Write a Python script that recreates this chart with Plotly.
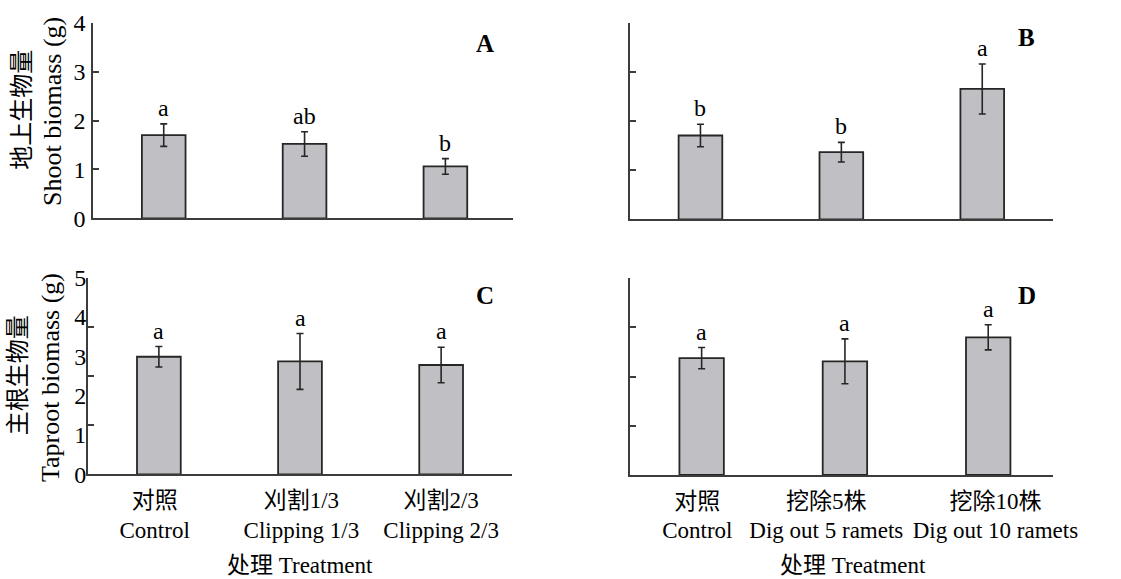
import plotly.graph_objects as go

# Treatment groups
cat_clip = ["对照<br>Control", "刈割1/3<br>Clipping 1/3", "刈割2/3<br>Clipping 2/3"]
cat_dig = ["对照<br>Control", "挖除5株<br>Dig out 5 ramets", "挖除10株<br>Dig out 10 ramets"]

# Shoot biomass (g): mean, SE, significance letters
shoot_clip_mean = [1.70, 1.52, 1.06]
shoot_clip_se = [0.23, 0.25, 0.16]
shoot_clip_sig = ["a", "ab", "b"]
shoot_dig_mean = [1.71, 1.37, 2.66]
shoot_dig_se = [0.23, 0.20, 0.51]
shoot_dig_sig = ["b", "b", "a"]

# Taproot biomass (g): mean, SE, significance letters
root_clip_mean = [2.99, 2.87, 2.78]
root_clip_se = [0.26, 0.71, 0.45]
root_clip_sig = ["a", "a", "a"]
root_dig_mean = [2.97, 2.89, 3.50]
root_dig_se = [0.27, 0.57, 0.32]
root_dig_sig = ["a", "a", "a"]

W, H = 1121, 579
FONT = "Liberation Serif, Times New Roman, Noto Sans CJK SC, serif"
BAR_FILL = "#c0bfc3"
INK = "#262626"
AX = "#3c3c3c"


def px_x(a, b):
    return [a / W, b / W]


def px_y(top, bottom):
    return [1 - bottom / H, 1 - top / H]


# label nudges (in category units) so long captions don't collide
clip_label_shift = [-0.03, 0.01, 0.0]
dig_label_shift = [-0.03, -0.13, 0.05]

panels = [
    # (cats, mean, se, sig, xaxis, yaxis, xdomain, ydomain, xrange, yrange, tickvals, label shift)
    (cat_clip, shoot_clip_mean, shoot_clip_se, shoot_clip_sig, "x", "y",
     px_x(93.3, 513), px_y(22.7, 218.3), [-0.5, 2.48], [0, 4], [0, 1, 2, 3, 4], clip_label_shift),
    (cat_dig, shoot_dig_mean, shoot_dig_se, shoot_dig_sig, "x2", "y2",
     px_x(630, 1052.7), px_y(23.3, 219.3), [-0.5, 2.5], [0, 4], [0, 1, 2, 3, 4], dig_label_shift),
    (cat_clip, root_clip_mean, root_clip_se, root_clip_sig, "x3", "y3",
     px_x(88.3, 511.7), px_y(277.7, 474.3), [-0.5, 2.5], [0, 5], [0, 1.25, 2.5, 3.75, 5], clip_label_shift),
    (cat_dig, root_dig_mean, root_dig_se, root_dig_sig, "x4", "y4",
     px_x(630, 1052.7), px_y(278.3, 475), [-0.5, 2.45], [0, 5], [0, 1.25, 2.5, 3.75, 5], dig_label_shift),
]

fig = go.Figure()
annotations = []
layout = {}

for i, (cats, mean, se, sig, xa, ya, xd, yd, xr, yr, tv, shift) in enumerate(panels):
    xpos = list(range(len(cats)))
    fig.add_trace(go.Bar(
        x=xpos, y=mean, width=0.31, xaxis=xa, yaxis=ya,
        marker=dict(color=BAR_FILL, line=dict(color=INK, width=1.8)),
        error_y=dict(type="data", array=se, visible=True,
                     color=INK, thickness=1.6, width=3.5),
        showlegend=False, hoverinfo="skip",
    ))
    for xi, m, s, t in zip(xpos, mean, se, sig):
        annotations.append(dict(
            x=xi, y=m + s, xref=xa, yref=ya, text=t, showarrow=False,
            yanchor="bottom", yshift=1,
            font=dict(family=FONT, size=24, color="black"),
        ))
    bottom_row = i >= 2
    xkey = "xaxis" if i == 0 else f"xaxis{i + 1}"
    ykey = "yaxis" if i == 0 else f"yaxis{i + 1}"
    layout[xkey] = dict(
        domain=xd, range=xr, anchor=ya, showgrid=False, zeroline=False,
        showline=True, linecolor=AX, linewidth=1.8, ticks="",
        tickmode="array", tickvals=[p + d for p, d in zip(xpos, shift)],
        ticktext=cats, tickangle=0,
        showticklabels=bottom_row, ticklabelstandoff=4, automargin=False,
        tickfont=dict(family=FONT, size=23, color="black"),
        fixedrange=True,
    )
    layout[ykey] = dict(
        domain=yd, range=yr, anchor=xa, showgrid=False, zeroline=False,
        showline=True, linecolor=AX, linewidth=1.8,
        ticks="inside", ticklen=6, tickwidth=1.5, tickcolor=AX,
        tickmode="array", tickvals=tv, automargin=False,
        showticklabels=(i == 0), ticklabelstandoff=1,
        tickfont=dict(family=FONT, size=24, color="black"),
        fixedrange=True,
    )

# Integer labels for the taproot panel, drawn on an overlaying axis
layout["yaxis5"] = dict(
    overlaying="y3", anchor="x3", range=[0, 5], side="left",
    tickmode="array", tickvals=[0, 1, 2, 3, 4, 5], ticks="", automargin=False,
    showline=False, showgrid=False, zeroline=False, ticklabelstandoff=1,
    tickfont=dict(family=FONT, size=24, color="black"), fixedrange=True,
)
fig.add_trace(go.Scatter(x=[0], y=[0], xaxis="x3", yaxis="y5", mode="markers",
                         marker=dict(opacity=0), showlegend=False, hoverinfo="skip"))

# Panel letters
for letter, px, py in [("A", 485, 43), ("B", 1026.7, 37.5), ("C", 485, 295), ("D", 1026.7, 295)]:
    annotations.append(dict(
        x=px / W, y=1 - py / H, xref="paper", yref="paper", text=f"<b>{letter}</b>",
        showarrow=False, xanchor="center", yanchor="middle",
        font=dict(family=FONT, size=25, color="black"),
    ))

# Y-axis titles (Chinese outer line, English inner line)
for text, px, py, size in [("地上生物量", 21.7, 110, 24), ("Shoot biomass (g)", 53, 112, 26),
                           ("主根生物量", 18.3, 375, 24), ("Taproot biomass (g)", 50, 378, 26)]:
    annotations.append(dict(
        x=px / W, y=1 - py / H, xref="paper", yref="paper", text=text,
        textangle=-90, showarrow=False, xanchor="center", yanchor="middle",
        font=dict(family=FONT, size=size, color="black"),
    ))

# X-axis titles
for px in [300, 853]:
    annotations.append(dict(
        x=px / W, y=1 - 565 / H, xref="paper", yref="paper", text="处理 Treatment",
        showarrow=False, xanchor="center", yanchor="middle",
        font=dict(family=FONT, size=23, color="black"),
    ))

fig.update_layout(
    width=W, height=H, margin=dict(l=0, r=0, t=0, b=0, autoexpand=False),
    paper_bgcolor="white", plot_bgcolor="white",
    annotations=annotations, **layout,
)

fig.write_html("out.html", config={"displayModeBar": False})
